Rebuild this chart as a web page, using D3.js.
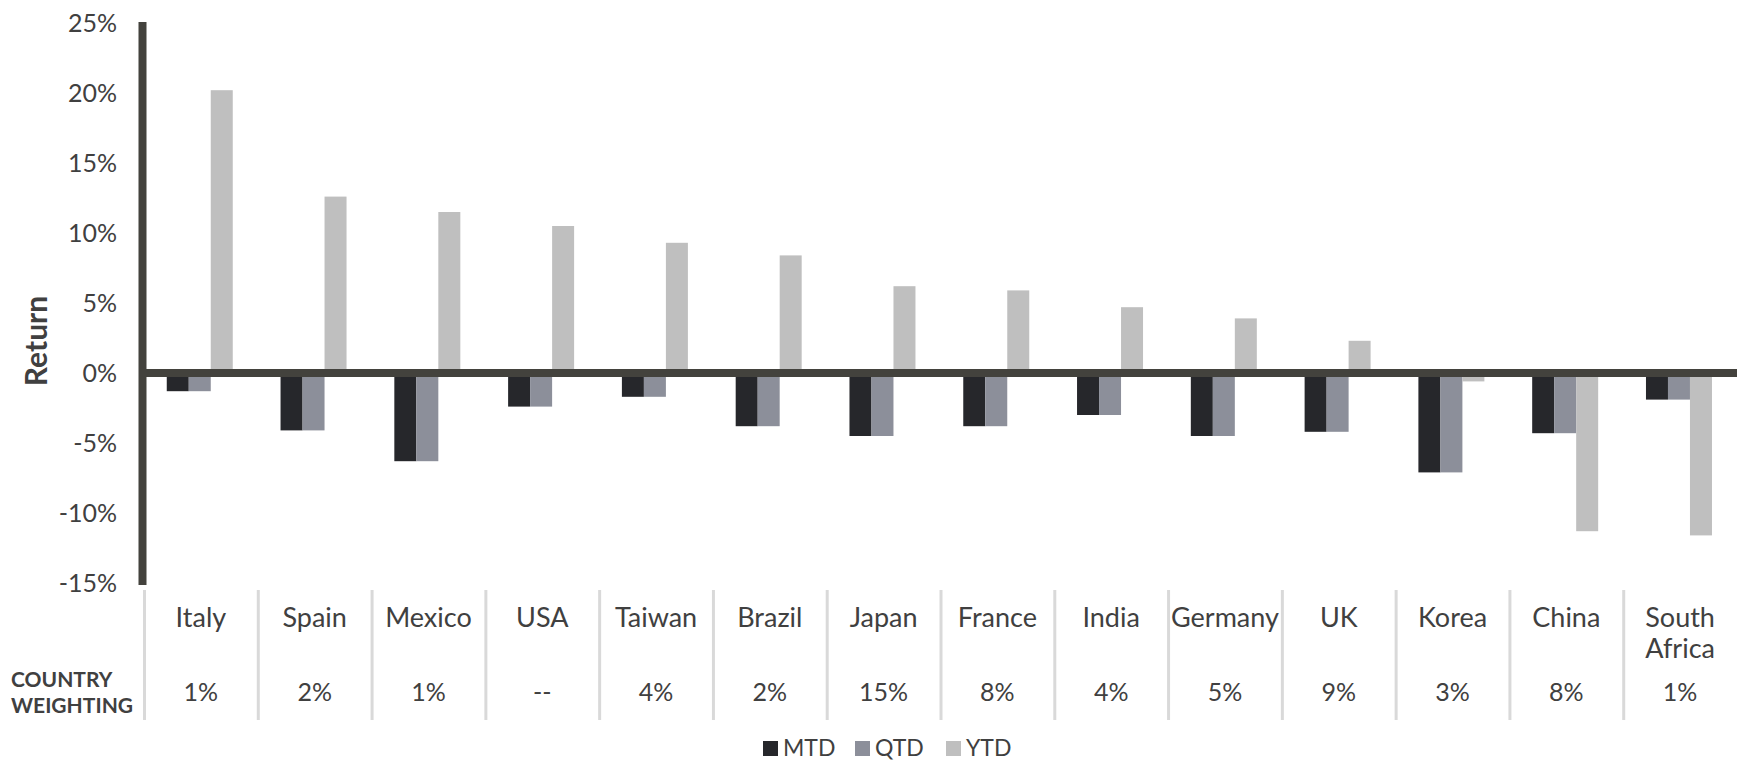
<!DOCTYPE html>
<html>
<head>
<meta charset="utf-8">
<script src="https://cdn.jsdelivr.net/npm/d3@7"></script>
<style>
  html, body { margin: 0; padding: 0; background: #fff; }
  svg { display: block; font-family: Lato, "Open Sans", sans-serif; }
</style>
</head>
<body>
<svg id="chart" width="1739" height="762"></svg>
<script>
// Country returns (%) by period
const countries = ["Italy", "Spain", "Mexico", "USA", "Taiwan", "Brazil", "Japan", "France", "India", "Germany", "UK", "Korea", "China", "South Africa"];
const weightings = ["1%", "2%", "1%", "--", "4%", "2%", "15%", "8%", "4%", "5%", "9%", "3%", "8%", "1%"];
const mtd = [-1.3, -4.1, -6.3, -2.4, -1.7, -3.8, -4.5, -3.8, -3.0, -4.5, -4.2, -7.1, -4.3, -1.9];
const qtd = [-1.3, -4.1, -6.3, -2.4, -1.7, -3.8, -4.5, -3.8, -3.0, -4.5, -4.2, -7.1, -4.3, -1.9];
const ytd = [20.2, 12.6, 11.5, 10.5, 9.3, 8.4, 6.2, 5.9, 4.7, 3.9, 2.3, -0.6, -11.3, -11.6];
const seriesNames = ["MTD", "QTD", "YTD"];
const seriesColors = ["#26272b", "#8c8f9a", "#bfbfbf"];
const yTicks = [-15, -10, -5, 0, 5, 10, 15, 20, 25];

const series = [mtd, qtd, ytd];
const svg = d3.select("#chart");
const textColor = "#404040";
const axisColor = "#43423d";

const x0 = d3.scaleBand().domain(countries).range([144, 1737]).paddingInner(0).paddingOuter(0);
const bw = x0.bandwidth();
const x1 = d3.scaleBand().domain(seriesNames).range([bw * 0.2, bw * 0.78]).padding(0);
const y = d3.scaleLinear().domain([-15, 25]).range([583, 23]);

// Bars
const rows = [];
countries.forEach((c, i) => {
  seriesNames.forEach((s, j) => rows.push({ country: c, series: s, value: series[j][i], color: seriesColors[j] }));
});
svg.append("g").selectAll("rect").data(rows).join("rect")
  .attr("x", d => x0(d.country) + x1(d.series))
  .attr("width", x1.bandwidth())
  .attr("y", d => y(Math.max(0, d.value)))
  .attr("height", d => Math.abs(y(d.value) - y(0)))
  .attr("fill", d => d.color);

// Y axis labels
const yAxis = d3.axisLeft(y).tickValues(yTicks).tickFormat(d => d + "%").tickSize(0).tickPadding(0);
const gy = svg.append("g").attr("transform", "translate(117,0)").call(yAxis);
gy.select(".domain").remove();
gy.selectAll("text").attr("fill", textColor).style("font-size", "25px").style("font-family", "Lato, sans-serif");

// Axis lines
svg.append("line").attr("x1", 142.5).attr("x2", 142.5).attr("y1", y(25) - 1).attr("y2", y(-15) + 2)
  .attr("stroke", axisColor).attr("stroke-width", 8);
svg.append("line").attr("x1", 142).attr("x2", 1737).attr("y1", y(0)).attr("y2", y(0))
  .attr("stroke", axisColor).attr("stroke-width", 8);

// Y title
svg.append("text")
  .attr("transform", "translate(47,341) rotate(-90)")
  .attr("text-anchor", "middle")
  .attr("fill", textColor)
  .style("font-size", "30px").style("font-weight", "700")
  .text("Return");

// Table below the chart: separators, country names, weightings
const table = svg.append("g");
table.selectAll("line.sep").data(countries).join("line")
  .attr("class", "sep")
  .attr("x1", d => x0(d) + 0.5).attr("x2", d => x0(d) + 0.5)
  .attr("y1", 590).attr("y2", 720)
  .attr("stroke", "#d9d9d9").attr("stroke-width", 3);

table.selectAll("text.cname").data(countries).join("text")
  .attr("class", "cname")
  .attr("text-anchor", "middle")
  .attr("fill", textColor)
  .style("font-size", "27px")
  .each(function (d) {
    const words = d.split(" ");
    const t = d3.select(this);
    words.forEach((w, k) => {
      t.append("tspan").attr("x", x0(d) + bw / 2).attr("y", 627 + k * 31).text(w);
    });
  });

table.selectAll("text.weight").data(countries).join("text")
  .attr("class", "weight")
  .attr("x", d => x0(d) + bw / 2)
  .attr("y", 701)
  .attr("text-anchor", "middle")
  .attr("fill", textColor)
  .style("font-size", "25px")
  .text((d, i) => weightings[i]);

const wl = table.append("text").attr("fill", textColor)
  .style("font-size", "21px").style("font-weight", "700");
wl.append("tspan").attr("x", 11).attr("y", 687).text("COUNTRY");
wl.append("tspan").attr("x", 11).attr("y", 713).text("WEIGHTING");

// Legend
const legendX = [763, 855, 946];
const legend = svg.append("g");
seriesNames.forEach((s, j) => {
  legend.append("rect").attr("x", legendX[j]).attr("y", 741).attr("width", 15).attr("height", 15).attr("fill", seriesColors[j]);
  legend.append("text").attr("x", legendX[j] + 20).attr("y", 756).attr("fill", textColor)
    .style("font-size", "23px").text(s);
});
</script>
</body>
</html>
